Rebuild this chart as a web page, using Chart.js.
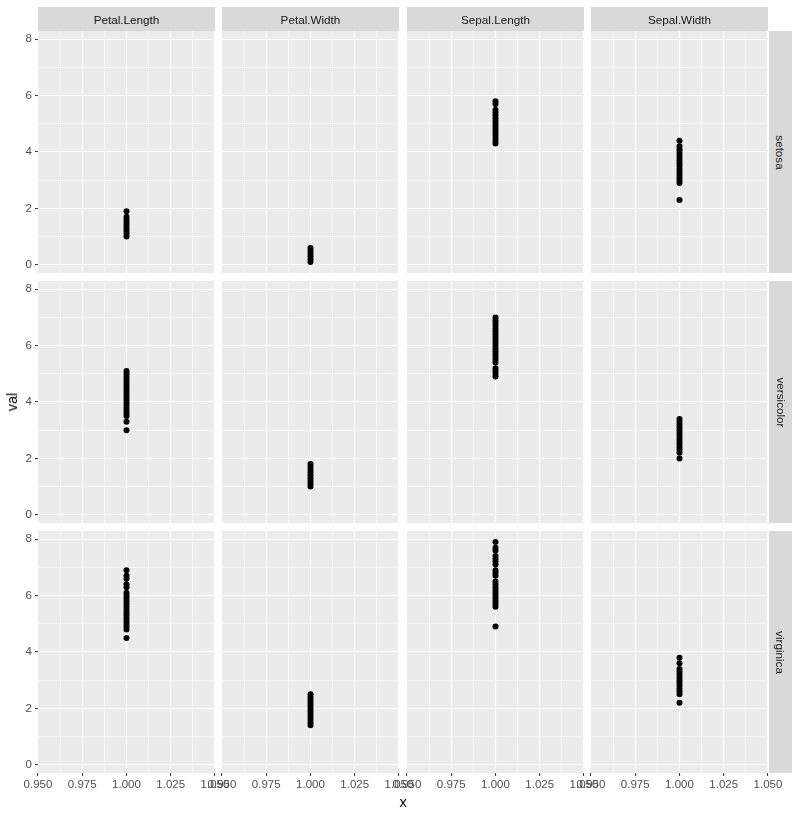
<!DOCTYPE html>
<html>
<head>
<meta charset="utf-8">
<title>iris facets</title>
<script src="https://cdn.jsdelivr.net/npm/chart.js@4.4.1/dist/chart.umd.min.js"></script>
<style>
    body { margin: 0; background: #fff; font-family: "Liberation Sans", Arial, sans-serif; }
    #wrap { position: relative; width: 800px; height: 817px; overflow: hidden; }
    canvas { position: absolute; }
    .strip {
        position: absolute; background: #D9D9D9; color: #1A1A1A; font-size: 11.7px;
        display: flex; align-items: center; justify-content: center;
    }
    .strip span { display: inline-block; white-space: nowrap; }
    .strip.right span { transform: rotate(90deg); }
    .title { position: absolute; color: #000; font-size: 14.5px; transform: translate(-50%, -50%); }
</style>
</head>
<body>
<div id="wrap"></div>
<script>
// ================= DATA =================
const variables = ["Petal.Length", "Petal.Width", "Sepal.Length", "Sepal.Width"];
const species = ["setosa", "versicolor", "virginica"];

const setosaPetalLength = [1.0, 1.1, 1.2, 1.3, 1.4, 1.5, 1.6, 1.7, 1.9];
const setosaPetalWidth = [0.1, 0.2, 0.3, 0.4, 0.5, 0.6];
const setosaSepalLength = [4.3, 4.4, 4.5, 4.6, 4.7, 4.8, 4.9, 5.0, 5.1, 5.2, 5.3, 5.4, 5.5, 5.7, 5.8];
const setosaSepalWidth = [2.3, 2.9, 3.0, 3.1, 3.2, 3.3, 3.4, 3.5, 3.6, 3.7, 3.8, 3.9, 4.0, 4.1, 4.2, 4.4];

const versicolorPetalLength = [3.0, 3.3, 3.5, 3.6, 3.7, 3.8, 3.9, 4.0, 4.1, 4.2, 4.3, 4.4, 4.5, 4.6, 4.7, 4.8, 4.9, 5.0, 5.1];
const versicolorPetalWidth = [1.0, 1.1, 1.2, 1.3, 1.4, 1.5, 1.6, 1.7, 1.8];
const versicolorSepalLength = [4.9, 5.0, 5.1, 5.2, 5.4, 5.5, 5.6, 5.7, 5.8, 5.9, 6.0, 6.1, 6.2, 6.3, 6.4, 6.5, 6.6, 6.7, 6.8, 6.9, 7.0];
const versicolorSepalWidth = [2.0, 2.2, 2.3, 2.4, 2.5, 2.6, 2.7, 2.8, 2.9, 3.0, 3.1, 3.2, 3.3, 3.4];

const virginicaPetalLength = [4.5, 4.8, 4.9, 5.0, 5.1, 5.2, 5.3, 5.4, 5.5, 5.6, 5.7, 5.8, 5.9, 6.0, 6.1, 6.3, 6.4, 6.6, 6.7, 6.9];
const virginicaPetalWidth = [1.4, 1.5, 1.6, 1.7, 1.8, 1.9, 2.0, 2.1, 2.2, 2.3, 2.4, 2.5];
const virginicaSepalLength = [4.9, 5.6, 5.7, 5.8, 5.9, 6.0, 6.1, 6.2, 6.3, 6.4, 6.5, 6.7, 6.8, 6.9, 7.1, 7.2, 7.3, 7.4, 7.6, 7.7, 7.9];
const virginicaSepalWidth = [2.2, 2.5, 2.6, 2.7, 2.8, 2.9, 3.0, 3.1, 3.2, 3.3, 3.4, 3.6, 3.8];

const panelValues = [
    [setosaPetalLength, setosaPetalWidth, setosaSepalLength, setosaSepalWidth],
    [versicolorPetalLength, versicolorPetalWidth, versicolorSepalLength, versicolorSepalWidth],
    [virginicaPetalLength, virginicaPetalWidth, virginicaSepalLength, virginicaSepalWidth]
];

const yBreaks = [0, 2, 4, 6, 8];
const yMinor = [1, 3, 5, 7];
const yLabels = ["0", "2", "4", "6", "8"];
const xBreaks = [0.95, 0.975, 1.0, 1.025, 1.05];
const xMinor = [0.9625, 0.9875, 1.0125, 1.0375];
const xLabels = ["0.950", "0.975", "1.000", "1.025", "1.050"];

// ================= LAYOUT =================
const panelLeft = [38, 222, 407, 591];
const panelTop = [31, 281, 531];
const panelW = 177, panelH = 242;
const padL = 40, padR = 24, padT = 10, padB = 32;
const yAxisW = 38, xAxisH = 22;
const FONT = "'Liberation Sans', Arial, sans-serif";

const isBreak = (v, breaks) => breaks.some(b => Math.abs(b - v) < 1e-9);

// grey panel background
const panelBg = {
    id: "panelBg",
    beforeDraw(chart) {
        const { ctx, chartArea: a } = chart;
        ctx.save();
        ctx.fillStyle = "#EBEBEB";
        ctx.fillRect(a.left, a.top, a.width, a.height);
        ctx.restore();
    }
};

function xScale(show) {
    return {
        type: "linear", min: 0.95, max: 1.05,
        afterBuildTicks: s => {
            s.ticks = [...xBreaks, ...xMinor].sort((a, b) => a - b).map(v => ({ value: v }));
        },
        afterFit: s => { s.height = xAxisH; s.paddingLeft = 0; s.paddingRight = 0; },
        border: { display: false },
        grid: {
            color: "#FFFFFF",
            lineWidth: c => (c.tick && isBreak(c.tick.value, xBreaks)) ? 1.1 : 0.55,
            tickLength: 3,
            tickWidth: 1,
            tickColor: c => (show && c.tick && isBreak(c.tick.value, xBreaks)) ? "#333333" : "rgba(0,0,0,0)"
        },
        ticks: {
            display: show, autoSkip: false, maxRotation: 0, minRotation: 0, padding: 2,
            color: "#4D4D4D", font: { family: FONT, size: 11.5 },
            callback: v => {
                const i = xBreaks.findIndex(b => Math.abs(b - v) < 1e-9);
                return i >= 0 ? xLabels[i] : "";
            }
        }
    };
}

function yScale(show) {
    return {
        type: "linear", min: -0.29, max: 8.29,
        afterBuildTicks: s => {
            s.ticks = [...yBreaks, ...yMinor].sort((a, b) => a - b).map(v => ({ value: v }));
        },
        afterFit: s => { s.width = yAxisW; s.paddingTop = 0; s.paddingBottom = 0; },
        border: { display: false },
        grid: {
            color: "#FFFFFF",
            lineWidth: c => (c.tick && isBreak(c.tick.value, yBreaks)) ? 1.1 : 0.55,
            tickLength: 3,
            tickWidth: 1,
            tickColor: c => (show && c.tick && isBreak(c.tick.value, yBreaks)) ? "#333333" : "rgba(0,0,0,0)"
        },
        ticks: {
            display: show, autoSkip: false, padding: 3,
            color: "#4D4D4D", font: { family: FONT, size: 11.5 },
            callback: v => {
                const i = yBreaks.findIndex(b => Math.abs(b - v) < 1e-9);
                return i >= 0 ? yLabels[i] : "";
            }
        }
    };
}

const wrap = document.getElementById("wrap");

// ================= PANELS =================
species.forEach((sp, r) => {
    variables.forEach((vr, c) => {
        const canvas = document.createElement("canvas");
        canvas.width = panelW + padL + padR;
        canvas.height = panelH + padT + padB;
        canvas.style.left = (panelLeft[c] - padL) + "px";
        canvas.style.top = (panelTop[r] - padT) + "px";
        wrap.appendChild(canvas);

        new Chart(canvas, {
            type: "scatter",
            data: {
                datasets: [{
                    data: panelValues[r][c].map(v => ({ x: 1, y: v })),
                    backgroundColor: "#000000",
                    borderWidth: 0,
                    pointRadius: 3,
                    pointHoverRadius: 3
                }]
            },
            options: {
                responsive: false,
                animation: false,
                devicePixelRatio: 1,
                layout: { padding: { left: padL - yAxisW, right: padR, top: padT, bottom: padB - xAxisH } },
                plugins: { legend: { display: false }, tooltip: { enabled: false } },
                scales: {
                    x: xScale(r === species.length - 1),
                    y: yScale(c === 0)
                }
            },
            plugins: [panelBg]
        });
    });
});

// ================= STRIPS & TITLES =================
function addStrip(text, left, top, w, h, right) {
    const d = document.createElement("div");
    d.className = right ? "strip right" : "strip";
    const s = document.createElement("span");
    s.textContent = text;
    d.appendChild(s);
    d.style.left = left + "px";
    d.style.top = top + "px";
    d.style.width = w + "px";
    d.style.height = h + "px";
    wrap.appendChild(d);
}

variables.forEach((vr, c) => addStrip(vr, panelLeft[c], 7, panelW, 24, false));
species.forEach((sp, r) => addStrip(sp, 769, panelTop[r], 23, panelH, true));

const yTitle = document.createElement("div");
yTitle.className = "title";
yTitle.textContent = "val";
yTitle.style.left = "12px";
yTitle.style.top = "402px";
yTitle.style.transform = "translate(-50%, -50%) rotate(-90deg)";
wrap.appendChild(yTitle);

const xTitle = document.createElement("div");
xTitle.className = "title";
xTitle.textContent = "x";
xTitle.style.left = "403px";
xTitle.style.top = "802px";
wrap.appendChild(xTitle);
</script>
</body>
</html>
